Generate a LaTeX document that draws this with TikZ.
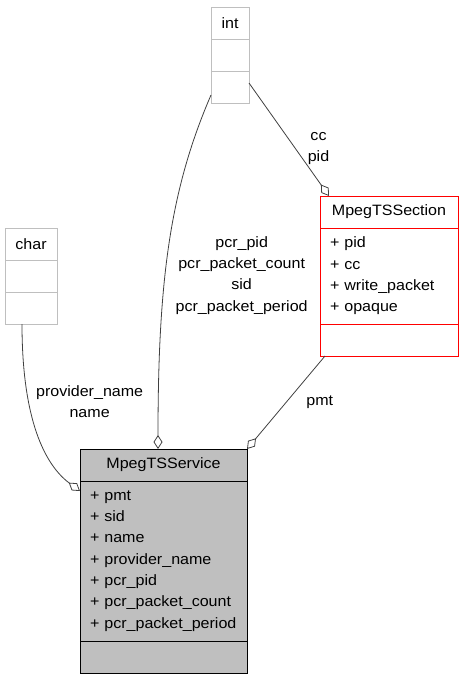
\documentclass[tikz,border=0pt]{standalone}
\usepackage{fontspec}
\setmainfont{Liberation Sans}[FakeStretch=1.07]
\usetikzlibrary{arrows.meta, positioning}
\definecolor{umlgray}{HTML}{BFBFBF}
\definecolor{edgegray}{HTML}{404040}

\begin{document}
\begin{tikzpicture}[x=1pt, y=-1pt, node distance=0pt, font=\fontsize{15}{21.3}\selectfont]
% We define the styles for the class boxes and the associations
 \tikzset{
box/.style = {draw, rectangle, inner sep=0pt, outer sep=0pt, line width=0.8pt, minimum height=32pt},
attr/.style = {box, align=left, inner xsep=10pt},
assoc/.style = {draw=edgegray, line width=0.8pt, -{Diamond[open, length=14pt, width=9pt]}},
lbl/.style = {align=center, inner sep=0pt, text=black},
}
 \useasboundingbox (0,0) rectangle (463,680);

 % int class
 \node [box, draw=umlgray, minimum width=38pt] at (230,23) (inttitle) {int};
 \node [box, draw=umlgray, minimum width=38pt, below=of inttitle] (intattr) {};
 \node [box, draw=umlgray, minimum width=38pt, below=of intattr] (intops) {};

 % char class
 \node [box, draw=umlgray, minimum width=52pt] at (31,244) (chartitle) {char};
 \node [box, draw=umlgray, minimum width=52pt, below=of chartitle] (charattr) {};
 \node [box, draw=umlgray, minimum width=52pt, below=of charattr] (charops) {};

 % MpegTSSection class
 \node [box, draw=red, minimum width=138pt] at (389,212) (sectitle) {MpegTSSection};
 \node [attr, draw=red, text width=118pt, minimum height=96pt, below=of sectitle] (secattr) {+ pid\\+ cc\\+ write\_packet\\+ opaque};
 \node [box, draw=red, minimum width=138pt, below=of secattr] (secops) {};

 % MpegTSService class
 \node [box, fill=umlgray, minimum width=167pt] at (163.5,465) (svctitle) {MpegTSService};
 \node [attr, fill=umlgray, text width=147pt, minimum height=160pt, below=of svctitle] (svcattr) {+ pmt\\+ sid\\+ name\\+ provider\_name\\+ pcr\_pid\\+ pcr\_packet\_count\\+ pcr\_packet\_period};
 \node [box, fill=umlgray, minimum width=167pt, below=of svcattr] (svcops) {};

 % Associations and their labels
 \draw [assoc] ([yshift=-12pt]intops.north east) -- ([xshift=9pt]sectitle.north west) node[lbl, pos=0.58, anchor=west, xshift=12pt] {cc\\pid};
 \draw [assoc] ([yshift=-24pt]intops.north west) .. controls (170,190) and (158,280) .. ([xshift=-5.5pt]svctitle.north) node[lbl, pos=0.59, anchor=west, xshift=10pt] {pcr\_pid\\pcr\_packet\_count\\sid\\pcr\_packet\_period};
 \draw [assoc] ([xshift=-9pt]charops.south) .. controls (22,420) and (45,465) .. ([yshift=-10pt]svcattr.north west) node[lbl, pos=0.32, anchor=west, xshift=7pt] {provider\_name\\name};
 \draw [assoc] ([xshift=-64pt]secops.south) -- (svctitle.north east) node[lbl, midway, anchor=west, xshift=20pt] {pmt};

\end{tikzpicture}
\end{document}
